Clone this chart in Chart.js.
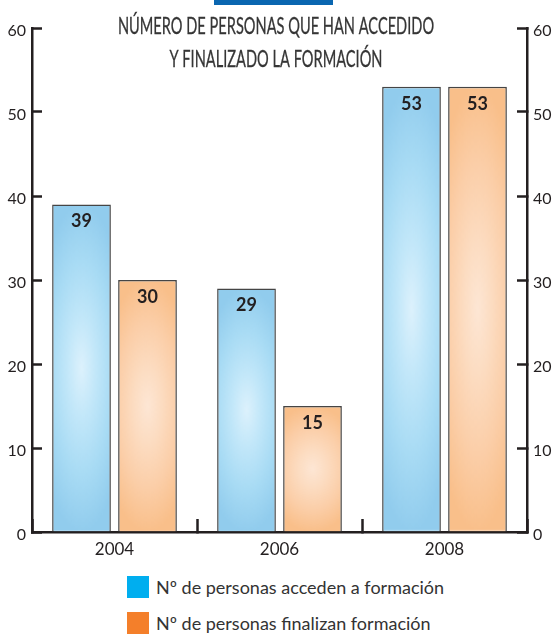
<!DOCTYPE html>
<html lang="es">
<head>
<meta charset="utf-8">
<title>Personas que han accedido y finalizado la formación</title>
<script src="https://cdn.jsdelivr.net/npm/chart.js@4.4.1/dist/chart.umd.min.js"></script>
<style>
  html, body { margin: 0; padding: 0; background: #fff; }
  #wrap { position: relative; width: 558px; height: 634px; overflow: hidden; }
  #chart-box { position: absolute; left: 0; top: 0; width: 558px; height: 570px; }
  .legend { position: absolute; left: 127px; top: 576px; font: 18px Lato, sans-serif; color: #333; }
  .legend-row { display: flex; align-items: center; height: 22px; margin-bottom: 14px; white-space: nowrap; }
  .swatch { width: 22px; height: 22px; margin-right: 7px; flex: none; }
</style>
</head>
<body>
<div id="wrap">
  <div id="chart-box"><canvas id="formacion-chart"></canvas></div>
  <div class="legend" id="legend"></div>
</div>
<script>
const years = ['2004', '2006', '2008'];
const accedenValues = [39, 29, 53];
const finalizanValues = [30, 15, 53];
const seriesNames = ['Nº de personas acceden a formación', 'Nº de personas finalizan formación'];
const legendColors = ['#00aeef', '#f47f2a'];
const titleLines = ['NÚMERO DE PERSONAS QUE HAN ACCEDIDO', 'Y FINALIZADO LA FORMACIÓN'];

const INK = '#231f20';

// 100x100 tile with an elliptical glow, stretched over each bar later
const makeGlow = (stops) => {
    const c = document.createElement('canvas');
    c.width = 100;
    c.height = 100;
    const g = c.getContext('2d');
    g.translate(50, 50);
    g.scale(80, 50);
    const grad = g.createRadialGradient(0, 0, 0, 0, 0, 1);
    stops.forEach(([at, col]) => grad.addColorStop(at, col));
    g.fillStyle = grad;
    g.fillRect(-1, -1, 2, 2);
    return c;
};
const blueGlow = makeGlow([[0, '#dcf1fc'], [0.3, '#c2e7f9'], [0.65, '#a8dbf4'], [1, '#91cced']]);
const orangeGlow = makeGlow([[0, '#fde6d4'], [0.3, '#fcdcc1'], [0.65, '#fbcea8'], [1, '#f9bf8a']]);

// --- legend ---
const legendEl = document.getElementById('legend');
seriesNames.forEach((name, i) => {
    const row = document.createElement('div');
    row.className = 'legend-row';
    row.innerHTML = `<span class="swatch" style="background:${legendColors[i]}"></span><span>${name}</span>`;
    legendEl.appendChild(row);
});

// position each bar's glow pattern once the bars have their geometry
const barGlow = {
    id: 'barGlow',
    beforeDatasetsDraw(chart) {
        chart.data.datasets.forEach((ds, i) => {
            chart.getDatasetMeta(i).data.forEach(bar => {
                const { x, y, base, width } = bar.getProps(['x', 'y', 'base', 'width'], true);
                const pat = bar.options.backgroundColor;
                if (pat && pat.setTransform) {
                    pat.setTransform(new DOMMatrix().translate(x - width / 2, y).scale(width / 100, (base - y) / 100));
                }
            });
        });
    }
};

const valueLabels = {
    id: 'valueLabels',
    afterDatasetsDraw(chart) {
        const { ctx } = chart;
        ctx.save();
        ctx.font = 'bold 18px Lato, sans-serif';
        ctx.fillStyle = INK;
        ctx.textAlign = 'center';
        ctx.textBaseline = 'middle';
        chart.data.datasets.forEach((ds, i) => {
            chart.getDatasetMeta(i).data.forEach((bar, j) => {
                ctx.fillText(ds.data[j], bar.x, bar.y + 17);
            });
        });
        ctx.restore();
    }
};

// blue tab + condensed two-line heading
const heading = {
    id: 'heading',
    afterDraw(chart) {
        const { ctx } = chart;
        ctx.save();
        ctx.fillStyle = '#0a66b0';
        ctx.fillRect(214, 0, 119, 5);
        ctx.fillStyle = '#363636';
        ctx.strokeStyle = '#363636';
        ctx.lineWidth = 0.3;
        ctx.font = '23px Lato, sans-serif';
        ctx.textAlign = 'center';
        titleLines.forEach((line, k) => {
            ctx.save();
            ctx.translate(276, 34 + k * 33);
            ctx.scale(0.635, 1);
            ctx.fillText(line, 0, 0);
            ctx.strokeText(line, 0, 0);
            ctx.restore();
        });
        ctx.restore();
    }
};

const tickFont = { family: 'Lato', size: 16 };

const yAxis = (position, width) => ({
    position,
    min: 0,
    max: 60,
    ticks: { stepSize: 10, padding: 16, labelOffset: 3, color: INK, font: tickFont },
    grid: { drawOnChartArea: false, drawTicks: true, tickLength: -10, tickWidth: 2.5, tickColor: INK, color: INK },
    border: { display: true, color: INK, width: 2.5 },
    afterFit: s => { s.width = width; }
});

new Chart(document.getElementById('formacion-chart'), {
    type: 'bar',
    data: {
        labels: years,
        datasets: [
            {
                label: seriesNames[0],
                data: accedenValues,
                backgroundColor: c => c.chart.ctx.createPattern(blueGlow, 'no-repeat'),
                borderColor: '#454545',
                borderWidth: 1.5
            },
            {
                label: seriesNames[1],
                data: finalizanValues,
                backgroundColor: c => c.chart.ctx.createPattern(orangeGlow, 'no-repeat'),
                borderColor: '#454545',
                borderWidth: 1.5
            }
        ]
    },
    options: {
        responsive: true,
        maintainAspectRatio: false,
        animation: false,
        events: [],
        categoryPercentage: 0.8,
        barPercentage: 0.89,
        layout: { padding: { top: 28, left: 0, right: 0, bottom: 0 } },
        plugins: {
            legend: { display: false },
            tooltip: { enabled: false }
        },
        scales: {
            x: {
                grid: { offset: true, drawOnChartArea: false, drawTicks: true, tickLength: -13, tickWidth: 2.5, tickColor: INK, color: INK },
                border: { display: true, color: INK, width: 2.5 },
                ticks: { padding: 20, color: INK, font: { family: 'Lato', size: 17 } },
                afterFit: s => { s.height = 38; }
            },
            y: yAxis('left', 32),
            y2: yAxis('right', 31)
        }
    },
    plugins: [barGlow, valueLabels, heading]
});
</script>
</body>
</html>
